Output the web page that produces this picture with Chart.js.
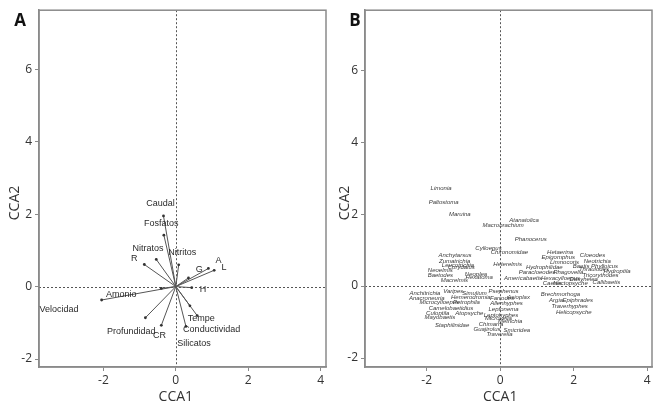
<!DOCTYPE html>
<html>
<head>
<meta charset="utf-8">
<script src="https://cdn.jsdelivr.net/npm/chart.js@4"></script>
<style>
  body { margin: 0; background: #fff; }
  #wrap { display: flex; width: 660px; height: 407px; }
  canvas { display: block; }
</style>
</head>
<body>
<div id="wrap">
  <canvas id="chartA" width="330" height="407"></canvas>
  <canvas id="chartB" width="330" height="407"></canvas>
</div>
<script>
// ejes
var tickVals = [-2, 0, 2, 4, 6];

// Panel A: flechas de variables ambientales
var arrowNames = ['Caudal','Fosfatos','Nitratos','R','Nitritos','G','A','L','H','Amonio','Velocidad','Profundidad','CR','Tempe','Conductividad','Silicatos'];
var arrowX = [-0.34,-0.33,-0.54,-0.87,0.08,0.35,0.90,1.06,0.44,-0.40,-2.05,-0.84,-0.40,0.39,0.59,0.28];
var arrowY = [1.95,1.42,0.75,0.61,0.60,0.24,0.50,0.45,-0.03,-0.05,-0.37,-0.86,-1.07,-0.53,-0.80,-1.10];
var labelX = [-0.42,-0.40,-0.77,-1.15,0.18,0.65,1.18,1.33,0.75,-1.51,-3.23,-1.23,-0.45,0.70,0.99,0.50];
var labelY = [2.29,1.74,1.06,0.78,0.93,0.47,0.71,0.52,-0.08,-0.23,-0.64,-1.24,-1.36,-0.87,-1.18,-1.57];

// Panel B: taxones
var taxa = ['Limonia','Paltostoma','Maruina','Atanatolica','Macrobrachium','Phanocerus','Cylloepus','Chironomidae',
  'Anchytarsus','Zumatrichia','Leucotrichia','Corydalus','Heterelmis','Neoelmis','Baetodes','Macrelmis','Neoplea','Hexatoma',
  'Hetaerina','Epigomphus','Limnocoris','Cloeodes','Neotrichia','Phylloicus','Hydrophilidae','Baetis','Thraulodes','Hydroptila',
  'Paracloeodes','Rhagovelia','Tricorythodes','Americabaetis','Hexacylloepus','Dasyhelea','Caenis','Nectopsyche','Callibaetis',
  'Anchitrichia','Anacroneuria','Microcylloepus','Varipes','Simulium','Hemerodromia','Petrophila','Camelobaetidius','Culoptila',
  'Atopsyche','Mayobaetis','Staphilinidae','Psephenus','Farrodes','Asioplax','Allenhyphes','Leptonema','Leptohyphes','Microvelia',
  'Metrichia','Chimarra','Guajirolus','Smicridea','Traverella','Brechmorhoga','Argia','Epiphrades','Traverhyphes','Helicopsyche'];
var taxaX = [-1.61,-1.54,-1.10,0.65,0.08,0.83,-0.32,0.25,
  -1.23,-1.24,-1.15,-1.06,0.20,-1.63,-1.63,-1.25,-0.66,-0.57,
  1.63,1.58,1.75,2.51,2.64,2.84,1.20,2.20,2.55,3.18,
  1.00,1.85,2.73,0.62,1.64,2.27,1.41,1.91,2.89,
  -2.05,-2.00,-1.66,-1.28,-0.70,-0.80,-0.92,-1.34,-1.70,
  -0.84,-1.64,-1.31,0.09,0.05,0.50,0.17,0.09,0.02,-0.05,
  0.27,-0.25,-0.36,0.45,-0.02,1.64,1.52,2.11,1.89,2.00];
var taxaY = [2.73,2.32,1.99,1.82,1.68,1.30,1.05,0.93,
  0.85,0.69,0.59,0.52,0.61,0.44,0.30,0.15,0.33,0.24,
  0.93,0.79,0.65,0.86,0.70,0.56,0.53,0.55,0.47,0.40,
  0.38,0.38,0.29,0.22,0.22,0.20,0.07,0.07,0.11,
  -0.19,-0.33,-0.45,-0.16,-0.19,-0.32,-0.45,-0.62,-0.75,
  -0.76,-0.87,-1.10,-0.15,-0.33,-0.31,-0.48,-0.65,-0.80,-0.89,
  -0.97,-1.07,-1.21,-1.22,-1.35,-0.24,-0.40,-0.40,-0.55,-0.73];

var gris = '#8a8a8a';
var texto = '#333';

// plugin: marco, líneas en cero, etiquetas y títulos
var panelPlugin = {
  id: 'panel',
  beforeDatasetsDraw: function(chart, args, o){
    var ctx = chart.ctx, a = chart.chartArea;
    var sx = chart.scales.x, sy = chart.scales.y;
    ctx.save();
    ctx.strokeStyle = '#555';
    ctx.lineWidth = 1;
    ctx.setLineDash([2, 2]);
    var px = Math.round(sx.getPixelForValue(0)) + 0.5;
    var py = Math.round(sy.getPixelForValue(0)) + 0.5;
    ctx.beginPath();
    ctx.moveTo(px, a.top); ctx.lineTo(px, a.bottom);
    ctx.moveTo(a.left, py); ctx.lineTo(a.right, py);
    ctx.stroke();
    ctx.setLineDash([]);
    ctx.strokeStyle = gris;
    ctx.lineWidth = 1.5;
    ctx.strokeRect(a.left, a.top, a.right - a.left, a.bottom - a.top);
    ctx.restore();
  },
  afterDatasetsDraw: function(chart, args, o){
    var ctx = chart.ctx, a = chart.chartArea;
    var sx = chart.scales.x, sy = chart.scales.y;
    ctx.save();
    ctx.fillStyle = o.labelColor;
    ctx.font = o.labelFont;
    ctx.textAlign = 'center';
    ctx.textBaseline = 'middle';
    for (var i = 0; i < o.names.length; i++) {
      ctx.fillText(o.names[i], sx.getPixelForValue(o.xs[i]), sy.getPixelForValue(o.ys[i]));
    }
    // títulos de ejes
    ctx.fillStyle = texto;
    ctx.font = '14px "Open Sans"';
    ctx.fillText('CCA1', sx.getPixelForValue(0), 397);
    ctx.save();
    ctx.translate(15, 203);
    ctx.rotate(-Math.PI / 2);
    ctx.fillText('CCA2', 0, 0);
    ctx.restore();
    // letra del panel
    ctx.fillStyle = '#111';
    ctx.font = 'bold 17px "Open Sans"';
    ctx.fillText(o.letter, o.letterX, 21);
    ctx.restore();
  }
};

function makeScales(xmin, xmax, ymin, ymax, yWidth){
  var common = {
    type: 'linear',
    grid: { display: true, drawOnChartArea: false, drawTicks: true, tickLength: 4, color: gris, lineWidth: 1 },
    border: { display: true, color: gris, width: 1.5 },
    afterBuildTicks: function(scale){
      scale.ticks = tickVals.filter(function(v){ return v >= scale.min && v <= scale.max; })
        .map(function(v){ return { value: v }; });
    },
    ticks: { color: texto, font: { family: 'Open Sans', size: 12 } }
  };
  return {
    x: Object.assign({}, common, {
      min: xmin, max: xmax,
      ticks: Object.assign({}, common.ticks, { padding: 2, maxRotation: 0 }),
      afterFit: function(scale){ scale.height = 40; }
    }),
    y: Object.assign({}, common, {
      min: ymin, max: ymax,
      ticks: Object.assign({}, common.ticks, { padding: 3 }),
      afterFit: function(scale){ scale.width = yWidth; }
    })
  };
}

// Panel A
var datasetsA = arrowNames.map(function(n, i){
  return {
    type: 'line',
    label: n,
    data: [{x: 0, y: 0}, {x: arrowX[i], y: arrowY[i]}],
    borderColor: '#555',
    borderWidth: 1,
    pointRadius: [0, 1.4],
    pointBackgroundColor: '#333',
    pointBorderWidth: 0
  };
});

new Chart(document.getElementById('chartA'), {
  type: 'scatter',
  data: { datasets: datasetsA },
  options: {
    responsive: false,
    animation: false,
    devicePixelRatio: 1,
    layout: { padding: { top: 6, right: 4, left: 0, bottom: 0 } },
    scales: makeScales(-3.78, 4.15, -2.22, 7.63, 39),
    plugins: {
      legend: { display: false },
      tooltip: { enabled: false },
      panel: { names: arrowNames, xs: labelX, ys: labelY, labelFont: '9px "Liberation Sans"', labelColor: '#2a2a2a', letter: 'A', letterX: 20 }
    }
  },
  plugins: [panelPlugin]
});

// Panel B
new Chart(document.getElementById('chartB'), {
  type: 'scatter',
  data: {
    datasets: [{
      label: 'Taxones',
      data: taxa.map(function(n, i){ return { x: taxaX[i], y: taxaY[i] }; }),
      pointRadius: 0
    }]
  },
  options: {
    responsive: false,
    animation: false,
    devicePixelRatio: 1,
    layout: { padding: { top: 7, right: 8, left: 0, bottom: 0 } },
    scales: makeScales(-3.68, 4.13, -2.25, 7.67, 35),
    plugins: {
      legend: { display: false },
      tooltip: { enabled: false },
      panel: { names: taxa, xs: taxaX, ys: taxaY, labelFont: 'italic 6px "Liberation Sans"', labelColor: '#3a3a3a', letter: 'B', letterX: 25 }
    }
  },
  plugins: [panelPlugin]
});
</script>
</body>
</html>
